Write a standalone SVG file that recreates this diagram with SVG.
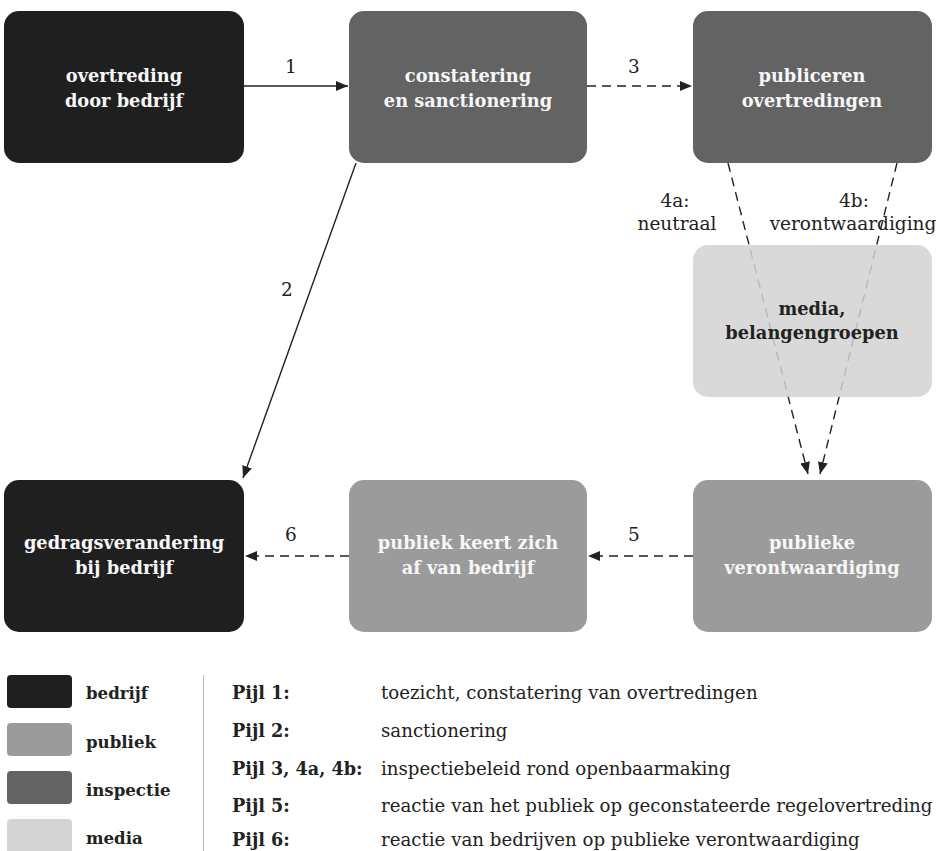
<svg xmlns="http://www.w3.org/2000/svg" width="944" height="851" viewBox="0 0 944 851">
<style>
  .bt{font-family:"DejaVu Serif","Liberation Serif",serif;font-weight:bold;font-size:17.8px;text-anchor:middle;fill:#f7f7f7;}
  .lbl{font-family:"DejaVu Serif","Liberation Serif",serif;font-size:18.5px;fill:#222;text-anchor:middle;}
  .solid{stroke:#222;stroke-width:1.4;fill:none;}
  .dash{stroke:#222;stroke-width:1.4;fill:none;stroke-dasharray:9 6;}
  .bedrijf{fill:#1f1f1f;}
  .inspectie{fill:#636363;}
  .publiek{fill:#9b9b9b;}
  .lg{font-family:"DejaVu Serif","Liberation Serif",serif;font-weight:bold;font-size:16.6px;fill:#222;}
  .lp{font-family:"DejaVu Serif","Liberation Serif",serif;font-weight:bold;font-size:17.6px;fill:#222;}
  .ld{font-family:"DejaVu Serif","Liberation Serif",serif;font-size:18.2px;fill:#222;}
</style>
<defs>
  <marker id="ah" markerUnits="userSpaceOnUse" markerWidth="13" markerHeight="11" refX="12" refY="5" orient="auto">
    <path d="M0,0 L12,5 L0,10 z" fill="#222" stroke="none"/>
  </marker>
</defs>
<rect width="944" height="851" fill="#fff"/>

<g id="connectors">
  <line class="solid" x1="244" y1="86" x2="348" y2="86" marker-end="url(#ah)"/>
  <line class="dash" x1="587" y1="86" x2="692" y2="86" marker-end="url(#ah)"/>
  <line class="solid" x1="356" y1="163" x2="243" y2="478" marker-end="url(#ah)"/>
  <line class="dash" x1="728" y1="163" x2="808" y2="474" marker-end="url(#ah)"/>
  <line class="dash" x1="897" y1="163" x2="820" y2="474" marker-end="url(#ah)"/>
  <line class="dash" x1="693" y1="556" x2="588" y2="556" marker-end="url(#ah)"/>
  <line class="dash" x1="349" y1="556" x2="245" y2="556" marker-end="url(#ah)"/>
  <text class="lbl" x="291" y="73">1</text>
  <text class="lbl" x="634" y="73">3</text>
  <text class="lbl" x="287" y="296">2</text>
  <text class="lbl" x="675" y="207">4a:</text>
  <text class="lbl" x="677" y="230">neutraal</text>
  <text class="lbl" x="854" y="207">4b:</text>
  <text class="lbl" x="853" y="230">verontwaardiging</text>
  <text class="lbl" x="634" y="541">5</text>
  <text class="lbl" x="291" y="541">6</text>
</g>

<g id="node-overtreding">
  <rect class="bedrijf" x="4" y="11" width="240" height="152" rx="15"/>
  <text class="bt" x="124" y="82">overtreding</text>
  <text class="bt" x="124" y="107">door bedrijf</text>
</g>
<g id="node-constatering">
  <rect class="inspectie" x="349" y="11" width="238" height="152" rx="15"/>
  <text class="bt" x="468" y="82">constatering</text>
  <text class="bt" x="468" y="107">en sanctionering</text>
</g>
<g id="node-publiceren">
  <rect class="inspectie" x="693" y="11" width="239" height="152" rx="15"/>
  <text class="bt" x="812" y="82">publiceren</text>
  <text class="bt" x="812" y="107">overtredingen</text>
</g>
<g id="node-media">
  <rect x="693" y="245" width="239" height="152" rx="15" fill="#d2d2d2" fill-opacity="0.85"/>
  <text class="bt" x="812" y="315" style="fill:#222">media,</text>
  <text class="bt" x="812" y="339" style="fill:#222">belangengroepen</text>
</g>
<g id="node-gedragsverandering">
  <rect class="bedrijf" x="4" y="480" width="240" height="152" rx="15"/>
  <text class="bt" x="124" y="549">gedragsverandering</text>
  <text class="bt" x="124" y="574">bij bedrijf</text>
</g>
<g id="node-publiek-keert">
  <rect class="publiek" x="349" y="480" width="238" height="152" rx="15"/>
  <text class="bt" x="468" y="549">publiek keert zich</text>
  <text class="bt" x="468" y="574">af van bedrijf</text>
</g>
<g id="node-publieke-verontwaardiging">
  <rect class="publiek" x="693" y="480" width="239" height="152" rx="15"/>
  <text class="bt" x="812" y="549">publieke</text>
  <text class="bt" x="812" y="574">verontwaardiging</text>
</g>

<g id="legend">
  <rect class="bedrijf" x="7" y="675" width="65" height="33" rx="4"/>
  <rect class="publiek" x="7" y="723" width="65" height="33" rx="4"/>
  <rect class="inspectie" x="7" y="771" width="65" height="33" rx="4"/>
  <rect x="7" y="819" width="65" height="40" rx="4" fill="#d4d4d4"/>
  <text class="lg" x="86" y="699">bedrijf</text>
  <text class="lg" x="86" y="748">publiek</text>
  <text class="lg" x="86" y="796">inspectie</text>
  <text class="lg" x="86" y="844">media</text>
  <line x1="203.5" y1="675" x2="203.5" y2="851" stroke="#bbb" stroke-width="1"/>
  <text class="lp" x="232" y="699">Pijl 1:</text>
  <text class="lp" x="232" y="737">Pijl 2:</text>
  <text class="lp" x="232" y="775">Pijl 3, 4a, 4b:</text>
  <text class="lp" x="232" y="812">Pijl 5:</text>
  <text class="lp" x="232" y="846">Pijl 6:</text>
  <text class="ld" x="381" y="699">toezicht, constatering van overtredingen</text>
  <text class="ld" x="381" y="737">sanctionering</text>
  <text class="ld" x="381" y="775">inspectiebeleid rond openbaarmaking</text>
  <text class="ld" x="381" y="812">reactie van het publiek op geconstateerde regelovertreding</text>
  <text class="ld" x="381" y="846">reactie van bedrijven op publieke verontwaardiging</text>
</g>
</svg>
